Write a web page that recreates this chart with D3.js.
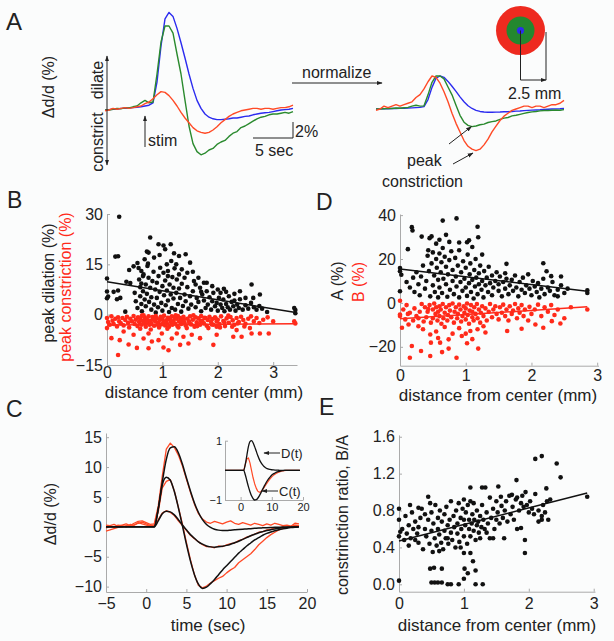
<!DOCTYPE html>
<html><head><meta charset="utf-8">
<script src="https://cdn.jsdelivr.net/npm/d3@7"></script>
<style>
body{margin:0;background:#fff;}
svg{display:block;font-family:"Liberation Sans",Arial,sans-serif;}
</style></head><body>
<svg id="c" width="614" height="641"></svg>
<script>
// ---------------- DATA ----------------
// Panel A: time (s) and Δd/d (%) for three rings
const tA = [-5,-4.5,-4,-3.5,-3,-2.5,-2,-1.5,-1,-0.5,0,0.5,1,1.5,2,2.5,3,3.5,4,4.5,5,5.5,6,6.5,7,7.5,8,8.5,9,9.5,10,10.5,11,11.5,12,12.5,13,13.5,14,14.5,15,15.5,16,16.5,17,17.5,18,18.5];
const blueA = [0,0.05,0.1,0.1,0.2,0.2,0.25,0.3,0.35,0.4,0.5,0.6,0.9,3.5,8.0,11.4,12.2,11.7,10.2,8.4,6.5,4.5,2.7,1.2,0.2,-0.5,-0.9,-1.1,-1.2,-1.2,-1.15,-1.1,-1.0,-1.0,-0.9,-0.8,-0.75,-0.6,-0.5,-0.4,-0.35,-0.3,-0.2,-0.1,0,0.05,0.1,0.2];
const greenA = [0,0,0.1,0.2,0.15,0.3,0.25,0.4,0.5,0.9,1.2,0.9,1.0,4.5,8.5,10.5,10.5,9.6,7.0,4.5,1.2,-2.0,-4.2,-5.2,-5.6,-5.4,-5.0,-4.8,-4.3,-4.0,-3.8,-3.3,-2.9,-2.7,-2.2,-2.0,-1.7,-1.4,-1.1,-0.9,-0.8,-0.6,-0.5,-0.5,-0.4,-0.3,-0.4,-0.2];
const redA = [-0.1,0,0.2,0.1,0.2,0.3,0.2,0.3,0.4,0.5,0.8,1.0,1.4,1.9,2.3,2.2,1.8,1.2,0.5,-0.3,-1.0,-1.6,-2.2,-2.6,-2.8,-2.9,-2.8,-2.5,-2.1,-1.6,-1.2,-0.8,-0.5,-0.3,-0.1,0.0,0.1,0.2,0.2,0.1,0.2,0.2,0.1,0.2,0.3,0.3,0.4,0.6];

// Panel B: distance (mm), peak dilation / constriction (%)
const dilB = [[0.22,29.2],[0.15,17.3],[0.2,17.4],[0.0,10.8],[0.0,6.9],[0.02,5.4],[0.0,4.9],[0.12,6.8],[0.2,7.2],[0.24,5.0],[0.18,4.6],[0.33,0.9],[0.35,9.8],[0.42,9.4],[0.4,13.3],[0.48,14.4],[0.55,15.4],[0.57,13.9],[0.62,13.0],[0.65,11.5],[0.62,9.3],[0.6,8.2],[0.72,18.8],[0.75,18.5],[0.78,23.0],[0.93,21.0],[1.02,20.6],[1.15,21.0],[1.21,18.3],[1.08,15.0],[1.42,18.0],[1.5,15.5],[1.75,9.5],[2.11,7.7],[2.61,9.0],[2.64,5.0],[2.76,6.0],[2.89,0.8],[3.4,1.4],[3.4,0.4],[3.38,2.0],
[0.5,6.5],[0.52,4.0],[0.55,2.0],[0.58,10.5],[0.6,5.5],[0.62,3.2],[0.63,1.0],[0.65,7.0],[0.66,12.0],[0.68,4.5],[0.7,9.0],[0.7,2.5],[0.72,6.2],[0.73,14.5],[0.75,11.0],[0.76,3.8],[0.78,8.0],[0.8,1.5],[0.8,5.2],[0.82,10.0],[0.84,12.8],[0.85,3.0],[0.87,7.5],[0.88,0.6],[0.9,9.5],[0.9,5.0],[0.92,2.2],[0.93,11.5],[0.95,6.8],[0.96,14.0],[0.98,3.5],[1.0,8.5],[1.0,1.2],[1.02,12.5],[1.03,5.8],[1.05,10.2],[1.06,2.8],[1.08,7.2],[1.1,4.2],[1.1,13.0],[1.12,0.8],[1.13,9.0],[1.15,6.0],[1.16,16.0],[1.17,2.0],[1.18,11.2],[1.2,4.8],[1.2,8.0],[1.22,13.8],[1.23,1.5],[1.25,6.5],[1.26,10.5],[1.28,3.2],[1.3,12.0],[1.3,7.8],[1.32,5.0],[1.34,0.9],[1.35,9.2],[1.37,2.6],[1.4,6.0],[1.4,11.0],[1.42,4.0],[1.45,8.2],[1.47,1.8],[1.5,5.5],[1.52,3.0],[1.55,7.0],[1.57,10.0],[1.6,2.2],[1.62,5.0],[1.65,3.8],[1.68,8.0],[1.7,1.0],[1.72,6.0],[1.75,4.2],[1.78,2.0],[1.8,7.0],[1.82,3.0],[1.85,5.2],[1.88,1.5],[1.9,4.0],[1.92,6.5],[1.95,2.5],[1.98,3.5],[2.0,1.2],[2.02,5.0],[2.05,3.0],[2.08,2.0],[2.1,4.5],[2.12,1.0],[2.15,3.2],[2.18,2.2],[2.2,5.5],[2.22,1.5],[2.25,3.8],[2.28,2.5],[2.3,4.2],[2.32,1.2],[2.35,3.0],[2.38,2.0],[2.4,4.6],[2.45,1.5],[2.5,2.8],[2.55,1.8],[2.6,3.5],[2.65,2.2],[2.7,1.5],[2.75,2.6],[2.8,1.8],
[0.68,16.5],[0.74,15.2],[0.85,17.0],[0.95,17.8],[1.05,19.5],[1.25,15.0],[1.3,17.5],[1.1,11.5],[1.35,13.5],[1.45,12.5],[1.55,12.8],[1.6,9.0],[1.65,11.0],[1.7,6.8],[1.8,9.5],[1.9,8.5],[2.0,7.5],[2.05,6.5],[2.15,6.8],[2.3,6.2],[2.4,7.0],[2.5,5.0]];
const conB = [[0.2,-12],[0.75,-10],[1.02,-9.8],[1.11,-10.6],[0.54,-9.9],[0.39,-8.9],[0.23,-7.6],[0.81,-8],[1.32,-9],[1.47,-8.6],[1.92,-9],[0.66,-7.1],[0.93,-7.6],[1.17,-7.1],[1.38,-6.6],[1.53,-6],[1.26,-5.6],[1.68,-7],[1.98,-6],[2.28,-6.6],[2.43,-6.6],[2.61,-5.6],[2.76,-5.6],[2.92,-5.6],[0.48,-6],[0.08,-7],[0.0,-4],[0.3,-5],[0.75,-5.6],[0.99,-5.6],[1.98,-3.6],[2.34,-4.6],[2.58,-4],
[0.0,-1.0],[0.02,-2.2],[0.05,-3.0],[0.08,-0.5],[0.1,-1.8],[0.12,-2.8],[0.15,-1.2],[0.18,-3.5],[0.2,-0.8],[0.22,-2.0],[0.25,-2.6],[0.28,-1.0],[0.3,-3.2],[0.33,-1.6],[0.36,-0.6],[0.38,-2.4],[0.4,-3.8],[0.42,-1.2],[0.45,-2.0],[0.48,-0.4],[0.5,-2.8],[0.52,-1.5],[0.55,-3.4],[0.56,-0.8],[0.58,-2.2],[0.6,-1.2],[0.62,-3.0],[0.63,-0.3],[0.65,-1.9],[0.67,-2.6],[0.68,-0.9],[0.7,-3.6],[0.72,-1.4],[0.73,-2.3],[0.75,-0.5],[0.77,-3.0],[0.78,-1.8],[0.8,-2.7],[0.82,-0.7],[0.83,-1.5],[0.85,-3.3],[0.87,-2.0],[0.88,-0.4],[0.9,-1.1],[0.92,-2.5],[0.94,-3.8],[0.95,-1.6],[0.97,-0.6],[0.98,-2.9],[1.0,-1.3],[1.02,-2.1],[1.03,-0.3],[1.05,-3.2],[1.07,-1.7],[1.08,-2.6],[1.1,-0.9],[1.12,-3.6],[1.13,-1.4],[1.15,-2.2],[1.17,-0.5],[1.18,-3.0],[1.2,-1.9],[1.22,-0.8],[1.23,-2.7],[1.25,-1.2],[1.27,-3.4],[1.28,-0.4],[1.3,-2.0],[1.32,-1.0],[1.34,-2.8],[1.35,-1.6],[1.38,-0.6],[1.4,-2.4],[1.42,-3.2],[1.45,-1.2],[1.48,-2.0],[1.5,-0.5],[1.52,-2.9],[1.55,-1.5],[1.58,-3.6],[1.6,-0.8],[1.62,-2.3],[1.65,-1.1],[1.68,-3.0],[1.7,-0.4],[1.72,-1.8],[1.75,-2.6],[1.78,-1.0],[1.8,-3.3],[1.82,-1.6],[1.85,-0.6],[1.88,-2.2],[1.9,-1.3],[1.92,-3.0],[1.95,-0.8],[1.98,-2.0],[2.0,-1.5],[2.03,-2.8],[2.06,-0.5],[2.1,-1.9],[2.13,-3.4],[2.16,-1.1],[2.2,-2.4],[2.23,-0.7],[2.27,-1.7],[2.3,-3.0],[2.34,-1.0],[2.38,-2.2],[2.42,-0.6],[2.46,-1.6],[2.5,-2.7],[2.55,-1.2],[2.6,-0.5],[2.65,-2.0],[2.7,-1.0],[2.75,-2.5],[2.82,-1.5],[2.9,-0.8],[3.0,-2.0],[3.4,-2.6],[3.38,-2.0],
[0.6,-4.2],[0.66,-0.2],[0.71,-2.0],[0.79,-4.4],[0.86,-1.2],[0.91,-3.0],[0.99,-0.9],[1.04,-2.4],[1.09,-4.2],[1.14,-1.0],[1.19,-2.5],[1.24,-0.2],[1.29,-3.8],[1.33,-2.2],[1.39,-1.4],[1.44,-4.0],[1.49,-2.6],[1.56,-0.2],[1.63,-3.4],[1.69,-1.9],[1.76,-0.9],[1.83,-4.0],[1.89,-2.9],[1.96,-1.1],[2.04,-3.8],[2.12,-2.3],[2.19,-0.3],[2.26,-3.6],[2.36,-2.6],[2.48,-3.5]];
const trendDilB = [[0,9.8],[3.38,0.7]];
const trendConB = [[0,-3.1],[3.4,-2.7]];

// Panel D: distance (mm), A (%) and B (%)
const aD = [[0.86,38.5],[0.65,37.5],[0.18,34.5],[0.19,33],[1.18,34.7],[1.19,29.9],[0.33,30.2],[0.45,29.5],[0.48,30.3],[0.6,28.8],[0.75,27.8],[0.9,27.5],[1.02,27.6],[0.12,24.5],[0.43,24],[1.25,22],[1.62,17.8],[2.18,18.1],[2.23,14.4],[2.3,12.2],[2.45,12],[0,15.9],[0,14.4],[0.02,12.8],[0,5.3],[2.4,3],[2.85,5.7],[2.85,4.5],
[0.1,9.5],[0.15,7.0],[0.2,11.5],[0.22,5.0],[0.25,14.0],[0.28,8.5],[0.3,3.5],[0.32,12.0],[0.35,17.0],[0.38,6.5],[0.4,10.0],[0.42,21.5],[0.44,14.5],[0.46,3.0],[0.48,18.0],[0.5,8.0],[0.5,23.0],[0.52,12.5],[0.53,5.0],[0.55,20.0],[0.56,16.0],[0.58,2.5],[0.58,10.5],[0.6,22.5],[0.6,7.0],[0.62,14.0],[0.63,18.5],[0.64,4.5],[0.65,25.0],[0.66,11.0],[0.68,21.0],[0.7,8.5],[0.7,16.5],[0.72,2.8],[0.73,13.0],[0.75,19.5],[0.76,6.0],[0.78,23.5],[0.8,10.0],[0.8,15.0],[0.82,4.0],[0.84,20.5],[0.85,12.0],[0.86,7.5],[0.88,17.0],[0.9,2.5],[0.9,24.0],[0.92,9.5],[0.93,14.0],[0.95,5.5],[0.96,19.0],[0.98,11.0],[1.0,7.0],[1.0,16.0],[1.02,3.2],[1.03,22.0],[1.05,9.0],[1.06,13.0],[1.07,18.0],[1.08,5.0],[1.1,10.5],[1.1,25.5],[1.12,2.0],[1.13,15.0],[1.14,7.5],[1.15,20.0],[1.16,11.5],[1.18,4.0],[1.2,13.5],[1.2,8.5],[1.22,17.0],[1.24,6.0],[1.25,10.0],[1.27,2.5],[1.28,14.5],[1.3,8.0],[1.32,11.5],[1.34,5.0],[1.35,16.5],[1.37,9.0],[1.4,3.5],[1.4,12.5],[1.42,7.0],[1.45,10.0],[1.47,14.0],[1.5,5.5],[1.5,8.5],[1.52,12.0],[1.55,3.0],[1.57,9.5],[1.6,6.5],[1.6,13.5],[1.62,11.0],[1.65,4.0],[1.67,8.0],[1.7,10.5],[1.72,5.5],[1.75,12.5],[1.77,7.0],[1.8,3.0],[1.82,9.5],[1.85,6.0],[1.87,11.5],[1.9,4.5],[1.92,8.0],[1.95,13.0],[1.97,6.5],[2.0,3.5],[2.02,10.0],[2.05,7.5],[2.08,5.0],[2.1,9.0],[2.12,2.5],[2.15,6.5],[2.18,11.0],[2.2,4.0],[2.25,7.0],[2.28,5.5],[2.32,9.5],[2.35,3.5],[2.4,6.0],[2.45,8.0],[2.5,4.5],[2.55,6.5],[1.05,28.5],[0.7,31.0],[0.55,27.0]];
const bD = [[0.15,-25],[0.18,-19.6],[0.32,-21.9],[0.46,-24.2],[0.64,-22.4],[0.74,-20.8],[0.86,-25],[1.19,-20.8],[1.02,-18.4],[0.46,-14.4],[0.47,-18.1],[0.61,-18.1],[0.74,-16.6],[0.94,-15.1],[1.07,-12.8],[1.18,-12],[1.27,-10.6],[0.03,-11.3],[0.13,-9.8],[0.28,-10.6],[1.63,-12.8],[1.85,-11.8],[2.06,-9.8],[2.18,-11.3],[2.31,-8.3],[2.44,-9.4],[0,-5.3],[0,-6.0],[0,1.0],[0.55,-13],[0.8,-14],[0.9,-11.5],[0.58,-16],[1.0,-14],[1.3,-13.5],[0.35,-12],[0.68,-11],[1.1,-16.5],
[0.05,-3],[0.08,-7.5],[0.1,-1],[0.12,-5],[0.2,-8],[0.22,-2.5],[0.25,-6],[0.3,-4],[0.33,-0.5],[0.36,-8.5],[0.38,-2],[0.4,-6.5],[0.42,-4],[0.45,-1],[0.47,-9],[0.5,-3],[0.5,-7],[0.52,-0.3],[0.54,-5],[0.55,-2],[0.57,-8],[0.58,-4],[0.6,-1.5],[0.6,-6],[0.62,-3],[0.63,-9.5],[0.65,-0.5],[0.66,-7],[0.68,-4.5],[0.7,-2],[0.72,-8],[0.73,-5.5],[0.75,-1],[0.76,-3.5],[0.78,-6.5],[0.8,-0.3],[0.82,-9],[0.83,-4],[0.85,-2],[0.87,-7],[0.88,-5],[0.9,-0.8],[0.92,-3],[0.93,-8.5],[0.95,-6],[0.97,-1.5],[0.98,-4.5],[1.0,-2.5],[1.0,-7.5],[1.02,-0.3],[1.03,-5.5],[1.05,-9.5],[1.06,-3.5],[1.08,-1],[1.1,-6.5],[1.1,-4],[1.12,-8],[1.13,-2],[1.15,-5],[1.17,-0.5],[1.18,-7],[1.2,-3],[1.22,-9],[1.23,-4.5],[1.25,-1.5],[1.27,-6],[1.3,-2.5],[1.32,-8],[1.35,-4],[1.37,-0.5],[1.4,-6.5],[1.42,-3],[1.45,-1.5],[1.47,-5],[1.5,-7.5],[1.52,-2],[1.55,-4.5],[1.57,-0.8],[1.6,-6],[1.62,-3],[1.65,-8],[1.67,-1.5],[1.7,-5],[1.72,-3.5],[1.75,-0.5],[1.78,-7],[1.8,-2.5],[1.82,-4.5],[1.85,-1],[1.88,-6],[1.9,-3],[1.95,-8],[1.97,-1.8],[2.0,-5],[2.05,-3],[2.1,-0.8],[2.15,-6],[2.2,-2],[2.25,-4],[2.3,-1],[2.35,-5.5],[2.4,-3],[2.5,-7],[2.6,-2],[2.85,-3],[0.15,-4.5],[0.28,-7],[0.43,-2.8]];
const trendAD = [[0,15.5],[2.85,5.3]];
const trendBD = [[0,-7.2],[2.85,-1.8]];

// Panel C: time (s), fits (black) and measured (red), plus inset D(t), C(t)
const tC = [-5,-4.5,-4,-3.5,-3,-2.5,-2,-1.5,-1,-0.5,0,0.5,1,1.5,2,2.5,3,3.5,4,4.5,5,5.5,6,6.5,7,7.5,8,8.5,9,9.5,10,10.5,11,11.5,12,12.5,13,13.5,14,14.5,15,15.5,16,16.5,17,17.5,18,18.5,19];
const fitBig = [0,0,0,0,0,0,0,0,0,0,0,0,0,3.0,7.5,11.3,13.2,13.4,12.4,10.5,8.2,6.0,4.0,2.4,1.2,0.4,-0.1,-0.4,-0.55,-0.6,-0.6,-0.55,-0.5,-0.45,-0.4,-0.35,-0.3,-0.25,-0.2,-0.17,-0.14,-0.11,-0.08,-0.06,-0.04,-0.03,-0.02,-0.01,0];
const fitMid = [0,0,0,0,0,0,0,0,0,0,0,0,0,3.0,7.0,8.3,7.8,5.9,3.2,0.2,-2.9,-5.7,-8.0,-9.6,-10.3,-10.1,-9.5,-8.8,-8.0,-7.2,-6.5,-5.8,-5.1,-4.4,-3.8,-3.2,-2.7,-2.2,-1.8,-1.4,-1.1,-0.85,-0.65,-0.48,-0.34,-0.22,-0.13,-0.06,0];
const fitSmall = [0,0,0,0,0,0,0,0,0,0,0,0,0,1.0,2.2,2.6,2.5,2.0,1.2,0.3,-0.5,-1.3,-1.9,-2.5,-2.9,-3.2,-3.35,-3.4,-3.35,-3.25,-3.1,-2.9,-2.65,-2.4,-2.1,-1.8,-1.5,-1.25,-1.0,-0.8,-0.62,-0.47,-0.35,-0.25,-0.17,-0.11,-0.06,-0.03,0];
const measBig = [0.3,0.2,0.4,0.1,0.3,0.5,0.2,0.6,0.9,1.0,0.7,0.4,0.5,3.5,8.5,13.0,14.0,13.3,12.0,10.2,8.0,5.8,3.8,2.2,1.3,0.8,0.6,0.9,0.7,0.5,0.8,1.0,0.6,0.4,0.7,0.5,0.3,0.6,0.4,0.2,0.5,0.3,0.6,0.4,0.2,0.3,0.1,0.6,0.5];
const measMid = [-0.2,0.1,0.0,0.3,0.2,0.0,0.4,0.3,0.6,0.8,0.5,0.2,0.3,2.5,6.5,7.6,7.9,6.0,3.3,0.5,-2.6,-5.5,-8.0,-9.8,-10.2,-9.9,-9.4,-9.0,-8.6,-8.3,-7.7,-7.2,-6.8,-6.0,-5.5,-5.0,-4.5,-3.8,-3.0,-2.4,-1.8,-1.3,-0.9,-0.5,-0.3,-0.1,0.0,0.3,0.2];
const measSmall = [-0.7,-0.5,-0.3,-0.1,0.0,0.2,0.1,0.3,0.7,0.5,0.3,0.1,0.2,1.2,2.3,2.7,2.4,1.9,1.0,0.2,-0.6,-1.4,-2.0,-2.5,-3.0,-3.3,-3.3,-3.5,-3.2,-3.3,-3.0,-2.8,-2.7,-2.3,-2.1,-1.7,-1.5,-1.2,-0.9,-0.8,-0.5,-0.4,-0.2,-0.2,0.0,-0.1,0.1,0.0,0.2];
const insetD = [0,0,0,0,0,0,0,0,0,0,0,0,0,0.2,0.5,0.8,0.97,1.0,0.93,0.8,0.65,0.5,0.37,0.27,0.19,0.13,0.09,0.06,0.04,0.03,0.02,0.015,0.01,0.01,0.005,0,0,0,0,0,0,0,0,0,0,0,0,0,0];
const insetC = [0,0,0,0,0,0,0,0,0,0,0,0,0,-0.15,-0.35,-0.55,-0.72,-0.86,-0.95,-1.0,-0.99,-0.94,-0.86,-0.76,-0.65,-0.55,-0.45,-0.36,-0.28,-0.22,-0.16,-0.12,-0.09,-0.06,-0.04,-0.03,-0.02,-0.01,0,0,0,0,0,0,0,0,0,0,0];
const insetMeas = [0,0,0,0,0,0,0,0,0,0,0,0,0,0.2,0.38,0.42,0.25,0.0,-0.25,-0.45,-0.6,-0.7,-0.74,-0.72,-0.66,-0.58,-0.5,-0.42,-0.35,-0.28,-0.22,-0.17,-0.13,-0.1,-0.07,-0.05,-0.03,-0.02,-0.01,0,0,0,0,0,0,0,0,0,0];

// Panel E: distance (mm), constriction ratio B/A
const ratioE = [[0,0.04],[0.5,0.02],[0.55,0.02],[0.6,0.02],[0.66,0.02],[0.75,0],[0.8,0],[0.92,0],[1.0,0.06],[1.18,0],[1.29,0],
[0.48,0.17],[0.54,0.18],[0.66,0.17],[1.01,0.17],[1.06,0.12],[1.18,0.15],[1.14,0.25],[1.0,0.34],[1.1,0.34],[1.94,0.34],[1.94,0.48],[1.88,0.61],
[2.1,1.36],[2.2,1.39],[2.43,1.31],[2.49,1.16],[2.9,0.95],[1.81,1.13],[2.27,1.04],[1.1,1.05],[1.28,1.05],[1.33,1.05],[1.53,1.06],[1.74,0.97],[1.82,0.94],[0,0.82],[0,0.7],[0.02,0.57],[0,0.52],[0.17,0.86],[0.3,0.83],[0.45,0.95],[0.48,0.88],
[0.05,0.6],[0.08,0.48],[0.1,0.74],[0.12,0.55],[0.15,0.64],[0.18,0.5],[0.2,0.78],[0.22,0.6],[0.25,0.68],[0.28,0.55],[0.3,0.45],[0.33,0.72],[0.35,0.82],[0.37,0.38],[0.4,0.6],[0.42,0.52],[0.45,0.7],[0.47,0.44],[0.5,0.78],[0.5,0.58],[0.52,0.35],[0.53,0.66],[0.55,0.5],[0.56,0.86],[0.58,0.42],[0.6,0.72],[0.6,0.6],[0.62,0.54],[0.63,0.8],[0.65,0.45],[0.66,0.68],[0.68,0.38],[0.7,0.76],[0.7,0.58],[0.72,0.5],[0.73,0.84],[0.75,0.64],[0.76,0.44],[0.78,0.7],[0.8,0.56],[0.8,0.9],[0.82,0.48],[0.84,0.74],[0.85,0.62],[0.87,0.4],[0.88,0.8],[0.9,0.66],[0.9,0.55],[0.92,0.88],[0.93,0.46],[0.95,0.72],[0.96,0.6],[0.98,0.82],[1.0,0.52],[1.0,0.7],[1.02,0.64],[1.03,0.78],[1.05,0.44],[1.06,0.86],[1.08,0.6],[1.08,0.7],[1.1,0.52],[1.1,0.9],[1.12,0.66],[1.13,0.76],[1.15,0.58],[1.16,0.7],[1.18,0.48],[1.2,0.8],[1.2,0.64],[1.22,0.68],[1.23,0.56],[1.25,0.74],[1.27,0.62],[1.28,0.86],[1.3,0.7],[1.32,0.6],[1.35,0.78],[1.37,0.66],[1.4,0.5],[1.4,0.94],[1.42,0.72],[1.45,0.82],[1.47,0.6],[1.5,0.9],[1.5,0.7],[1.52,0.78],[1.55,0.66],[1.57,0.95],[1.58,0.85],[1.6,0.72],[1.62,0.5],[1.63,0.8],[1.65,0.9],[1.67,0.68],[1.7,0.96],[1.72,0.76],[1.75,0.84],[1.77,0.7],[1.8,0.92],[1.82,0.6],[1.85,0.8],[1.88,0.88],[1.9,0.96],[1.92,0.84],[1.95,1.0],[1.97,0.86],[2.0,0.78],[2.02,0.9],[2.05,0.82],[2.08,0.76],[2.1,0.98],[2.15,0.8],[2.2,0.74],[2.22,0.86],[2.25,0.78],[2.28,0.9],[2.3,0.7],[2.33,0.92],[2.2,0.7],[2.15,0.68],[0.3,0.62],[0.62,0.36],[0.75,0.5],[0.95,0.4],[1.25,0.5],[1.35,0.56],[1.45,0.5],[1.0,0.92],[1.15,0.88],[0.4,0.76],[0.25,0.48],[0.15,0.42]];
const trendE = [[0,0.47],[2.9,0.99]];

// tick labels
const ticksB_x = [0,1,2,3], ticksB_y = [-15,0,15,30];
const ticksD_x = [0,1,2,3], ticksD_y = [-20,0,20,40];
const ticksC_x = [-5,0,5,10,15,20], ticksC_y = [-10,-5,0,5,10,15];
const ticksIn_x = [0,10,20], ticksIn_y = [-1,1];
const ticksE_x = [0,1,2,3], ticksE_y = [0,0.4,0.8,1.2,1.6];

// ---------------- DRAW ----------------
const TXT = "#222", BLK = "#111", RED = "#ff2a1a", ORG = "#ff4a26", BLU = "#2b2bef", GRN = "#2a8a2e";
const svg = d3.select("#c");
svg.append("rect").attr("width",614).attr("height",641).attr("fill","#fbfcfc");
const defs = svg.append("defs");
defs.append("marker").attr("id","ah").attr("viewBox","0 0 10 10").attr("refX",9).attr("refY",5)
  .attr("markerWidth",6).attr("markerHeight",6).attr("orient","auto-start-reverse")
  .append("path").attr("d","M0,1.5 L10,5 L0,8.5 z").attr("fill","#222");

function text(x,y,s,o={}){
  return svg.append("text")
    .attr("transform",`translate(${x},${y})${o.rot?" rotate(-90)":""}`)
    .attr("font-size",o.size||16).attr("text-anchor",o.anchor||"start")
    .attr("fill",o.color||TXT).text(s);
}
function styleAxis(g,size){
  g.attr("font-family",null).attr("font-size",size||16);
  g.selectAll(".domain").attr("stroke","#aaa");
  g.selectAll(".tick line").attr("stroke","#aaa");
  g.selectAll("text").attr("fill",TXT);
}
function axes(x,y,xt,yt,xfmt,yfmt,px,py,size){
  const gx = svg.append("g").attr("transform",`translate(0,${y.range()[0]})`)
    .call(d3.axisBottom(x).tickValues(xt).tickSizeInner(-3).tickSizeOuter(0).tickPadding(px).tickFormat(xfmt));
  const gy = svg.append("g").attr("transform",`translate(${x.range()[0]},0)`)
    .call(d3.axisLeft(y).tickValues(yt).tickSizeInner(-3).tickSizeOuter(0).tickPadding(py).tickFormat(yfmt));
  styleAxis(gx,size); styleAxis(gy,size);
}
function dots(data,x,y,color){
  svg.append("g").selectAll("circle").data(data).join("circle")
    .attr("cx",d=>x(d[0])).attr("cy",d=>y(d[1])).attr("r",2.3).attr("fill",color);
}
function seg(data,x,y,color,w){
  svg.append("path").datum(data).attr("fill","none").attr("stroke",color).attr("stroke-width",w||1.5)
    .attr("d",d3.line().x(d=>x(d[0])).y(d=>y(d[1])));
}
function trace(t,v,x,y,color,w,curve){
  svg.append("path").datum(v).attr("fill","none").attr("stroke",color).attr("stroke-width",w||1.4)
    .attr("stroke-linejoin","round")
    .attr("d",d3.line().x((d,i)=>x(t[i])).y(d=>y(d)).curve(curve||d3.curveLinear));
}
const fmt = d3.format("d");

// ---- Panel A ----
text(6,30,"A",{size:24});
const xA = d3.scaleLinear([-5,18.5],[105,293]);
const yA = d3.scaleLinear([0,1],[110,102]);
trace(tA,blueA,xA,yA,BLU); trace(tA,greenA,xA,yA,GRN); trace(tA,redA,xA,yA,ORG);
const xN = d3.scaleLinear([-5,18.5],[376,564]);
const yN = d3.scaleLinear([0,1],[109,76]);
[[blueA,BLU],[greenA,GRN],[redA,ORG]].forEach(([arr,c])=>{
  const m = d3.max(arr);
  trace(tA,arr.map(v=>v/m),xN,yN,c);
});
svg.append("line").attr("x1",107).attr("x2",107).attr("y1",56).attr("y2",165).attr("stroke","#222")
  .attr("marker-start","url(#ah)").attr("marker-end","url(#ah)");
text(54,87,"Δd/d (%)",{rot:true,anchor:"middle"});
text(103,80,"dilate",{rot:true,anchor:"middle"});
text(103,142,"constrict",{rot:true,anchor:"middle"});
svg.append("line").attr("x1",145).attr("x2",145).attr("y1",147).attr("y2",116).attr("stroke","#222").attr("marker-end","url(#ah)");
text(148,146,"stim");
svg.append("path").attr("d","M253,138 H293 V122").attr("fill","none").attr("stroke","#222");
text(295,137,"2%");
text(255,156,"5 sec");
svg.append("line").attr("x1",292).attr("x2",382).attr("y1",83).attr("y2",83).attr("stroke","#222").attr("marker-end","url(#ah)");
text(302,78,"normalize");
svg.append("circle").attr("cx",520.5).attr("cy",30.5).attr("r",24.5).attr("fill","#ee2a1f");
svg.append("circle").attr("cx",520.5).attr("cy",30.5).attr("r",14).attr("fill","#23882f");
svg.append("circle").attr("cx",520.5).attr("cy",30.5).attr("r",3.6).attr("fill","#2b2bef");
svg.append("path").attr("d","M520.5,30.5 V80 M546,32 V80").attr("stroke","#222").attr("fill","none");
svg.append("line").attr("x1",520.5).attr("x2",546).attr("y1",80).attr("y2",80).attr("stroke","#222").attr("marker-end","url(#ah)");
text(508,99,"2.5 mm");
svg.append("line").attr("x1",449).attr("y1",144).attr("x2",471.5).attr("y2",126.5).attr("stroke","#222").attr("marker-end","url(#ah)");
svg.append("line").attr("x1",453).attr("y1",164).attr("x2",473).attr("y2",153).attr("stroke","#222").attr("marker-end","url(#ah)");
text(407,166,"peak");
text(382,187,"constriction");

// ---- Panel B ----
text(7,208,"B",{size:23});
const xB = d3.scaleLinear([0,3.43],[107,297]);
const yB = d3.scaleLinear([-15,30],[365,214]);
axes(xB,yB,ticksB_x,ticksB_y,fmt,fmt,2,4);
dots(dilB,xB,yB,BLK); dots(conB,xB,yB,RED);
seg(trendDilB,xB,yB,BLK); seg(trendConB,xB,yB,RED);
text(204,398,"distance from center (mm)",{anchor:"middle",size:17});
text(54,283,"peak dilation (%)",{rot:true,anchor:"middle"});
text(71,287,"peak constriction (%)",{rot:true,anchor:"middle",color:RED});

// ---- Panel D ----
text(316,210,"D",{size:23});
const xD = d3.scaleLinear([0,3.02],[400,598.5]);
const yD = d3.scaleLinear([-28.6,40.5],[365.7,214]);
axes(xD,yD,ticksD_x,ticksD_y,fmt,fmt,4,4);
dots(aD,xD,yD,BLK); dots(bD,xD,yD,RED);
seg(trendAD,xD,yD,BLK); seg(trendBD,xD,yD,RED);
text(498,401,"distance from center (mm)",{anchor:"middle",size:17});
text(343,281,"A (%)",{rot:true,anchor:"middle"});
text(364,282,"B (%)",{rot:true,anchor:"middle",color:RED});

// ---- Panel C ----
text(6,417,"C",{size:23});
const xC = d3.scaleLinear([-5,20],[106,307]);
const yC = d3.scaleLinear([-10.9,15.7],[592,433]);
axes(xC,yC,ticksC_x,ticksC_y,fmt,fmt,6,4);
trace(tC,measBig,xC,yC,ORG,1.3); trace(tC,measMid,xC,yC,ORG,1.3); trace(tC,measSmall,xC,yC,ORG,1.3);
trace(tC,fitBig,xC,yC,BLK,1.5,d3.curveMonotoneX); trace(tC,fitMid,xC,yC,BLK,1.5,d3.curveMonotoneX); trace(tC,fitSmall,xC,yC,BLK,1.5,d3.curveMonotoneX);
text(208,631,"time (sec)",{anchor:"middle",size:17});
text(56,514,"Δd/d (%)",{rot:true,anchor:"middle"});
const xI = d3.scaleLinear([-5,20],[225,303]);
const yI = d3.scaleLinear([-1,1],[500,440.7]);
axes(xI,yI,ticksIn_x,ticksIn_y,fmt,fmt,3,3,11);
trace(tC,insetMeas,xI,yI,ORG,1.2);
trace(tC,insetD,xI,yI,BLK,1.3,d3.curveMonotoneX);
trace(tC,insetC,xI,yI,BLK,1.3,d3.curveMonotoneX);
svg.append("line").attr("x1",280).attr("x2",264).attr("y1",453).attr("y2",453).attr("stroke","#222").attr("marker-end","url(#ah)");
text(281,458,"D(t)",{size:13});
svg.append("line").attr("x1",278).attr("x2",262).attr("y1",491).attr("y2",491).attr("stroke","#222").attr("marker-end","url(#ah)");
text(279,496,"C(t)",{size:13});

// ---- Panel E ----
text(319,415,"E",{size:23});
const xE = d3.scaleLinear([0,3.02],[399,595]);
const yE = d3.scaleLinear([-0.08,1.62],[591.7,434.9]);
axes(xE,yE,ticksE_x,ticksE_y,fmt,d3.format(".1f"),6,4);
dots(ratioE,xE,yE,BLK);
seg(trendE,xE,yE,BLK);
text(497,631,"distance from center (mm)",{anchor:"middle",size:17});
text(348,515,"constrinction ratio, B/A",{rot:true,anchor:"middle"});
</script>
</body></html>
